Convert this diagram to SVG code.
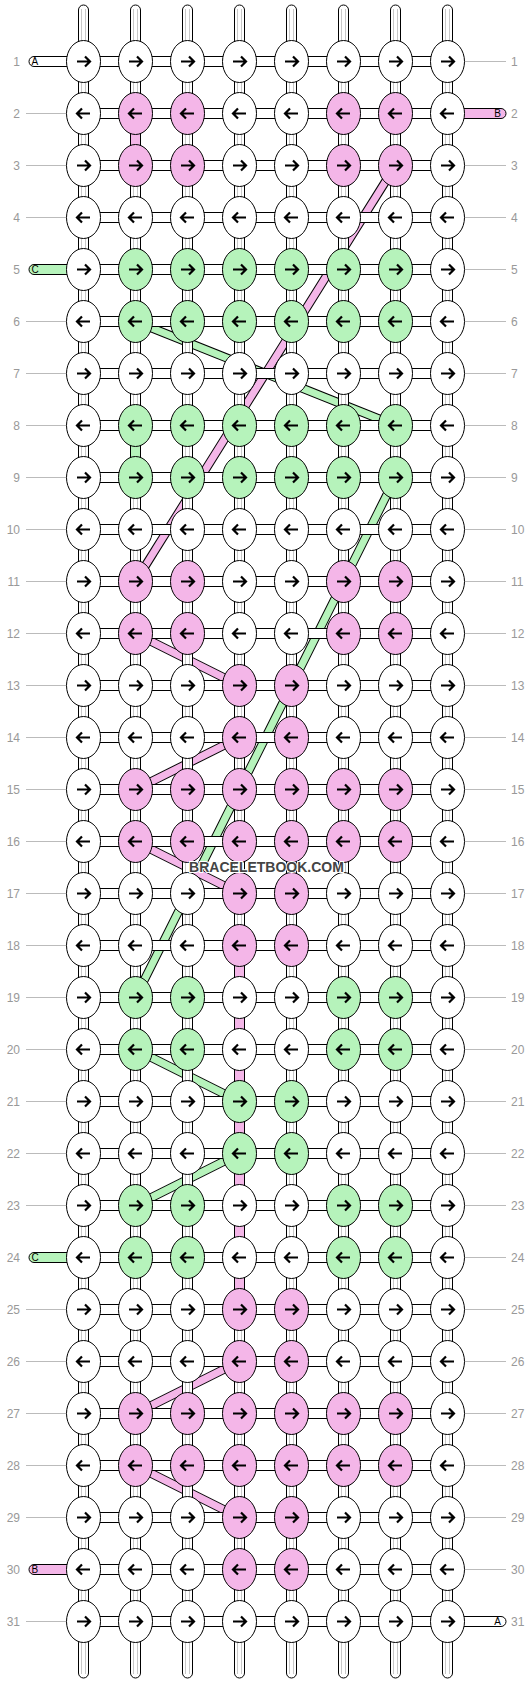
<svg xmlns="http://www.w3.org/2000/svg" xmlns:xlink="http://www.w3.org/1999/xlink" width="532" height="1684" viewBox="0 0 532 1684">
<style>
.w ellipse{fill:#fff}
.p ellipse{fill:#f4b6e8}
.g ellipse{fill:#b6f3bb}
ellipse{stroke:#000;stroke-width:1}
.arr{fill:none;stroke:#000;stroke-width:2.2}
.cn{fill:#fff;stroke:#000;stroke-width:1}
.gl{stroke:#c8c8c8;stroke-width:1}
.cp{fill:#f4b6e8;stroke:#000;stroke-width:1}
.cg{fill:#b6f3bb;stroke:#000;stroke-width:1}
.bo{fill:none;stroke:#000;stroke-width:9}
.bp{fill:none;stroke:#f4b6e8;stroke-width:7}
.bg{fill:none;stroke:#b6f3bb;stroke-width:7}
.num{font-family:"Liberation Sans",Arial,sans-serif;font-size:12px;fill:#999}
.lbl{font-family:"Liberation Sans",Arial,sans-serif;font-size:10px;fill:#000}
.ln{stroke:#bbb;stroke-width:1}
.wm{font-family:"Liberation Sans",Arial,sans-serif;font-size:14px;font-weight:bold;fill:#444;stroke:#fff;stroke-width:2;paint-order:stroke}
</style>
<defs>
<path id="R" class="arr" d="M-6.5 0H6M1.5-5L6.5 0L1.5 5"/>
<path id="L" class="arr" d="M6.5 0H-6M-1.5-5L-6.5 0L-1.5 5"/>
<g id="hrow">
<rect class="cn" x="98.5" y="-5" width="22" height="10"/><rect class="cn" x="150.5" y="-5" width="22" height="10"/><rect class="cn" x="202.5" y="-5" width="22" height="10"/><rect class="cn" x="254.5" y="-5" width="22" height="10"/><rect class="cn" x="306.5" y="-5" width="22" height="10"/><rect class="cn" x="358.5" y="-5" width="22" height="10"/><rect class="cn" x="410.5" y="-5" width="22" height="10"/>
</g>
<g id="vc"><rect class="cn" x="-5" y="0" width="10" height="14"/><line class="gl" x1="-2" y1="0" x2="-2" y2="14"/><line class="gl" x1="2" y1="0" x2="2" y2="14"/></g>
<g id="vrow">
<use href="#vc" x="83.5"/><use href="#vc" x="135.5"/><use href="#vc" x="187.5"/><use href="#vc" x="239.5"/><use href="#vc" x="291.5"/><use href="#vc" x="343.5"/><use href="#vc" x="395.5"/><use href="#vc" x="447.5"/>
</g>
<g id="top"><rect class="cn" x="-5" y="5" width="10" height="40" rx="5"/><line class="gl" x1="-2" y1="9" x2="-2" y2="45"/><line class="gl" x1="2" y1="9" x2="2" y2="45"/></g>
<g id="bot"><rect class="cn" x="-5" y="1638" width="10" height="40" rx="5"/><line class="gl" x1="-2" y1="1638" x2="-2" y2="1674"/><line class="gl" x1="2" y1="1638" x2="2" y2="1674"/></g>
<g id="pinkb">
<path d="M395.5 165.5L135.5 581.5"/>
<path d="M135.5 633.5L239.5 685.5"/>
<path d="M239.5 737.5L135.5 789.5"/>
<path d="M135.5 841.5L239.5 893.5"/>
<path d="M239.5 945.5L239.5 1309.5"/>
<path d="M239.5 1361.5L135.5 1413.5"/>
<path d="M135.5 1465.5L239.5 1517.5"/>
</g>
<g id="greenb">
<path d="M135.5 321.5L395.5 425.5"/>
<path d="M395.5 477.5L135.5 997.5"/>
<path d="M135.5 1049.5L239.5 1101.5"/>
<path d="M239.5 1153.5L135.5 1205.5"/>
</g>
</defs>
<g id="connectors">
<g id="bands">
<use href="#greenb" class="bo"/><use href="#greenb" class="bg"/>
<use href="#pinkb" class="bo"/><use href="#pinkb" class="bp"/>
</g>
<g id="vertical">
<use href="#top" x="83.5"/><use href="#top" x="135.5"/><use href="#top" x="187.5"/><use href="#top" x="239.5"/><use href="#top" x="291.5"/><use href="#top" x="343.5"/><use href="#top" x="395.5"/><use href="#top" x="447.5"/>
<use href="#bot" x="83.5"/><use href="#bot" x="135.5"/><use href="#bot" x="187.5"/><use href="#bot" x="239.5"/><use href="#bot" x="291.5"/><use href="#bot" x="343.5"/><use href="#bot" x="395.5"/><use href="#bot" x="447.5"/>
<use href="#vrow" y="80.5"/><use href="#vrow" y="132.5"/><use href="#vrow" y="184.5"/><use href="#vrow" y="236.5"/><use href="#vrow" y="288.5"/><use href="#vrow" y="340.5"/><use href="#vrow" y="392.5"/><use href="#vrow" y="444.5"/><use href="#vrow" y="496.5"/><use href="#vrow" y="548.5"/>
<use href="#vrow" y="600.5"/><use href="#vrow" y="652.5"/><use href="#vrow" y="704.5"/><use href="#vrow" y="756.5"/><use href="#vrow" y="808.5"/><use href="#vrow" y="860.5"/><use href="#vrow" y="912.5"/><use href="#vrow" y="964.5"/><use href="#vrow" y="1016.5"/><use href="#vrow" y="1068.5"/>
<use href="#vrow" y="1120.5"/><use href="#vrow" y="1172.5"/><use href="#vrow" y="1224.5"/><use href="#vrow" y="1276.5"/><use href="#vrow" y="1328.5"/><use href="#vrow" y="1380.5"/><use href="#vrow" y="1432.5"/><use href="#vrow" y="1484.5"/><use href="#vrow" y="1536.5"/><use href="#vrow" y="1588.5"/>
<rect class="cp" x="130.5" y="132.5" width="10" height="14"/>
<rect class="cg" x="130.5" y="444.5" width="10" height="14"/>
<rect class="cp" x="234.5" y="964.5" width="10" height="14"/>
<rect class="cp" x="234.5" y="1016.5" width="10" height="14"/>
<rect class="cp" x="234.5" y="1068.5" width="10" height="14"/>
<rect class="cp" x="234.5" y="1120.5" width="10" height="14"/>
<rect class="cp" x="234.5" y="1172.5" width="10" height="14"/>
<rect class="cp" x="234.5" y="1224.5" width="10" height="14"/>
<rect class="cp" x="234.5" y="1276.5" width="10" height="14"/>
</g>
<g id="horizontal">
<use href="#hrow" y="61.5"/><use href="#hrow" y="113.5"/><use href="#hrow" y="165.5"/><use href="#hrow" y="217.5"/><use href="#hrow" y="269.5"/><use href="#hrow" y="321.5"/><use href="#hrow" y="373.5"/><use href="#hrow" y="425.5"/><use href="#hrow" y="477.5"/><use href="#hrow" y="529.5"/>
<use href="#hrow" y="581.5"/><use href="#hrow" y="633.5"/><use href="#hrow" y="685.5"/><use href="#hrow" y="737.5"/><use href="#hrow" y="789.5"/><use href="#hrow" y="841.5"/><use href="#hrow" y="893.5"/><use href="#hrow" y="945.5"/><use href="#hrow" y="997.5"/><use href="#hrow" y="1049.5"/>
<use href="#hrow" y="1101.5"/><use href="#hrow" y="1153.5"/><use href="#hrow" y="1205.5"/><use href="#hrow" y="1257.5"/><use href="#hrow" y="1309.5"/><use href="#hrow" y="1361.5"/><use href="#hrow" y="1413.5"/><use href="#hrow" y="1465.5"/><use href="#hrow" y="1517.5"/><use href="#hrow" y="1569.5"/>
<use href="#hrow" y="1621.5"/>
</g>
<g id="ends">
<rect class="cn" x="29" y="56.5" width="45" height="10" rx="5"/>
<rect class="cn" x="458" y="1616.5" width="48" height="10" rx="5"/>
<rect class="cp" x="458" y="108.5" width="48" height="10" rx="5"/>
<rect class="cp" x="29" y="1564.5" width="45" height="10" rx="5"/>
<rect class="cg" x="29" y="264.5" width="45" height="10" rx="5"/>
<rect class="cg" x="29" y="1252.5" width="45" height="10" rx="5"/>
</g>
</g>
<g id="nodes">
<g id="r1c1" class="w" transform="translate(83.5 61.5)"><ellipse rx="17" ry="21"/><use href="#R"/></g>
<g id="r1c2" class="w" transform="translate(135.5 61.5)"><ellipse rx="17" ry="21"/><use href="#R"/></g>
<g id="r1c3" class="w" transform="translate(187.5 61.5)"><ellipse rx="17" ry="21"/><use href="#R"/></g>
<g id="r1c4" class="w" transform="translate(239.5 61.5)"><ellipse rx="17" ry="21"/><use href="#R"/></g>
<g id="r1c5" class="w" transform="translate(291.5 61.5)"><ellipse rx="17" ry="21"/><use href="#R"/></g>
<g id="r1c6" class="w" transform="translate(343.5 61.5)"><ellipse rx="17" ry="21"/><use href="#R"/></g>
<g id="r1c7" class="w" transform="translate(395.5 61.5)"><ellipse rx="17" ry="21"/><use href="#R"/></g>
<g id="r1c8" class="w" transform="translate(447.5 61.5)"><ellipse rx="17" ry="21"/><use href="#R"/></g>
<g id="r2c1" class="w" transform="translate(83.5 113.5)"><ellipse rx="17" ry="21"/><use href="#L"/></g>
<g id="r2c2" class="p" transform="translate(135.5 113.5)"><ellipse rx="17" ry="21"/><use href="#L"/></g>
<g id="r2c3" class="p" transform="translate(187.5 113.5)"><ellipse rx="17" ry="21"/><use href="#L"/></g>
<g id="r2c4" class="w" transform="translate(239.5 113.5)"><ellipse rx="17" ry="21"/><use href="#L"/></g>
<g id="r2c5" class="w" transform="translate(291.5 113.5)"><ellipse rx="17" ry="21"/><use href="#L"/></g>
<g id="r2c6" class="p" transform="translate(343.5 113.5)"><ellipse rx="17" ry="21"/><use href="#L"/></g>
<g id="r2c7" class="p" transform="translate(395.5 113.5)"><ellipse rx="17" ry="21"/><use href="#L"/></g>
<g id="r2c8" class="w" transform="translate(447.5 113.5)"><ellipse rx="17" ry="21"/><use href="#L"/></g>
<g id="r3c1" class="w" transform="translate(83.5 165.5)"><ellipse rx="17" ry="21"/><use href="#R"/></g>
<g id="r3c2" class="p" transform="translate(135.5 165.5)"><ellipse rx="17" ry="21"/><use href="#R"/></g>
<g id="r3c3" class="p" transform="translate(187.5 165.5)"><ellipse rx="17" ry="21"/><use href="#R"/></g>
<g id="r3c4" class="w" transform="translate(239.5 165.5)"><ellipse rx="17" ry="21"/><use href="#R"/></g>
<g id="r3c5" class="w" transform="translate(291.5 165.5)"><ellipse rx="17" ry="21"/><use href="#R"/></g>
<g id="r3c6" class="p" transform="translate(343.5 165.5)"><ellipse rx="17" ry="21"/><use href="#R"/></g>
<g id="r3c7" class="p" transform="translate(395.5 165.5)"><ellipse rx="17" ry="21"/><use href="#R"/></g>
<g id="r3c8" class="w" transform="translate(447.5 165.5)"><ellipse rx="17" ry="21"/><use href="#R"/></g>
<g id="r4c1" class="w" transform="translate(83.5 217.5)"><ellipse rx="17" ry="21"/><use href="#L"/></g>
<g id="r4c2" class="w" transform="translate(135.5 217.5)"><ellipse rx="17" ry="21"/><use href="#L"/></g>
<g id="r4c3" class="w" transform="translate(187.5 217.5)"><ellipse rx="17" ry="21"/><use href="#L"/></g>
<g id="r4c4" class="w" transform="translate(239.5 217.5)"><ellipse rx="17" ry="21"/><use href="#L"/></g>
<g id="r4c5" class="w" transform="translate(291.5 217.5)"><ellipse rx="17" ry="21"/><use href="#L"/></g>
<g id="r4c6" class="w" transform="translate(343.5 217.5)"><ellipse rx="17" ry="21"/><use href="#L"/></g>
<g id="r4c7" class="w" transform="translate(395.5 217.5)"><ellipse rx="17" ry="21"/><use href="#L"/></g>
<g id="r4c8" class="w" transform="translate(447.5 217.5)"><ellipse rx="17" ry="21"/><use href="#L"/></g>
<g id="r5c1" class="w" transform="translate(83.5 269.5)"><ellipse rx="17" ry="21"/><use href="#R"/></g>
<g id="r5c2" class="g" transform="translate(135.5 269.5)"><ellipse rx="17" ry="21"/><use href="#R"/></g>
<g id="r5c3" class="g" transform="translate(187.5 269.5)"><ellipse rx="17" ry="21"/><use href="#R"/></g>
<g id="r5c4" class="g" transform="translate(239.5 269.5)"><ellipse rx="17" ry="21"/><use href="#R"/></g>
<g id="r5c5" class="g" transform="translate(291.5 269.5)"><ellipse rx="17" ry="21"/><use href="#R"/></g>
<g id="r5c6" class="g" transform="translate(343.5 269.5)"><ellipse rx="17" ry="21"/><use href="#R"/></g>
<g id="r5c7" class="g" transform="translate(395.5 269.5)"><ellipse rx="17" ry="21"/><use href="#R"/></g>
<g id="r5c8" class="w" transform="translate(447.5 269.5)"><ellipse rx="17" ry="21"/><use href="#R"/></g>
<g id="r6c1" class="w" transform="translate(83.5 321.5)"><ellipse rx="17" ry="21"/><use href="#L"/></g>
<g id="r6c2" class="g" transform="translate(135.5 321.5)"><ellipse rx="17" ry="21"/><use href="#L"/></g>
<g id="r6c3" class="g" transform="translate(187.5 321.5)"><ellipse rx="17" ry="21"/><use href="#L"/></g>
<g id="r6c4" class="g" transform="translate(239.5 321.5)"><ellipse rx="17" ry="21"/><use href="#L"/></g>
<g id="r6c5" class="g" transform="translate(291.5 321.5)"><ellipse rx="17" ry="21"/><use href="#L"/></g>
<g id="r6c6" class="g" transform="translate(343.5 321.5)"><ellipse rx="17" ry="21"/><use href="#L"/></g>
<g id="r6c7" class="g" transform="translate(395.5 321.5)"><ellipse rx="17" ry="21"/><use href="#L"/></g>
<g id="r6c8" class="w" transform="translate(447.5 321.5)"><ellipse rx="17" ry="21"/><use href="#L"/></g>
<g id="r7c1" class="w" transform="translate(83.5 373.5)"><ellipse rx="17" ry="21"/><use href="#R"/></g>
<g id="r7c2" class="w" transform="translate(135.5 373.5)"><ellipse rx="17" ry="21"/><use href="#R"/></g>
<g id="r7c3" class="w" transform="translate(187.5 373.5)"><ellipse rx="17" ry="21"/><use href="#R"/></g>
<g id="r7c4" class="w" transform="translate(239.5 373.5)"><ellipse rx="17" ry="21"/><use href="#R"/></g>
<g id="r7c5" class="w" transform="translate(291.5 373.5)"><ellipse rx="17" ry="21"/><use href="#R"/></g>
<g id="r7c6" class="w" transform="translate(343.5 373.5)"><ellipse rx="17" ry="21"/><use href="#R"/></g>
<g id="r7c7" class="w" transform="translate(395.5 373.5)"><ellipse rx="17" ry="21"/><use href="#R"/></g>
<g id="r7c8" class="w" transform="translate(447.5 373.5)"><ellipse rx="17" ry="21"/><use href="#R"/></g>
<g id="r8c1" class="w" transform="translate(83.5 425.5)"><ellipse rx="17" ry="21"/><use href="#L"/></g>
<g id="r8c2" class="g" transform="translate(135.5 425.5)"><ellipse rx="17" ry="21"/><use href="#L"/></g>
<g id="r8c3" class="g" transform="translate(187.5 425.5)"><ellipse rx="17" ry="21"/><use href="#L"/></g>
<g id="r8c4" class="g" transform="translate(239.5 425.5)"><ellipse rx="17" ry="21"/><use href="#L"/></g>
<g id="r8c5" class="g" transform="translate(291.5 425.5)"><ellipse rx="17" ry="21"/><use href="#L"/></g>
<g id="r8c6" class="g" transform="translate(343.5 425.5)"><ellipse rx="17" ry="21"/><use href="#L"/></g>
<g id="r8c7" class="g" transform="translate(395.5 425.5)"><ellipse rx="17" ry="21"/><use href="#L"/></g>
<g id="r8c8" class="w" transform="translate(447.5 425.5)"><ellipse rx="17" ry="21"/><use href="#L"/></g>
<g id="r9c1" class="w" transform="translate(83.5 477.5)"><ellipse rx="17" ry="21"/><use href="#R"/></g>
<g id="r9c2" class="g" transform="translate(135.5 477.5)"><ellipse rx="17" ry="21"/><use href="#R"/></g>
<g id="r9c3" class="g" transform="translate(187.5 477.5)"><ellipse rx="17" ry="21"/><use href="#R"/></g>
<g id="r9c4" class="g" transform="translate(239.5 477.5)"><ellipse rx="17" ry="21"/><use href="#R"/></g>
<g id="r9c5" class="g" transform="translate(291.5 477.5)"><ellipse rx="17" ry="21"/><use href="#R"/></g>
<g id="r9c6" class="g" transform="translate(343.5 477.5)"><ellipse rx="17" ry="21"/><use href="#R"/></g>
<g id="r9c7" class="g" transform="translate(395.5 477.5)"><ellipse rx="17" ry="21"/><use href="#R"/></g>
<g id="r9c8" class="w" transform="translate(447.5 477.5)"><ellipse rx="17" ry="21"/><use href="#R"/></g>
<g id="r10c1" class="w" transform="translate(83.5 529.5)"><ellipse rx="17" ry="21"/><use href="#L"/></g>
<g id="r10c2" class="w" transform="translate(135.5 529.5)"><ellipse rx="17" ry="21"/><use href="#L"/></g>
<g id="r10c3" class="w" transform="translate(187.5 529.5)"><ellipse rx="17" ry="21"/><use href="#L"/></g>
<g id="r10c4" class="w" transform="translate(239.5 529.5)"><ellipse rx="17" ry="21"/><use href="#L"/></g>
<g id="r10c5" class="w" transform="translate(291.5 529.5)"><ellipse rx="17" ry="21"/><use href="#L"/></g>
<g id="r10c6" class="w" transform="translate(343.5 529.5)"><ellipse rx="17" ry="21"/><use href="#L"/></g>
<g id="r10c7" class="w" transform="translate(395.5 529.5)"><ellipse rx="17" ry="21"/><use href="#L"/></g>
<g id="r10c8" class="w" transform="translate(447.5 529.5)"><ellipse rx="17" ry="21"/><use href="#L"/></g>
<g id="r11c1" class="w" transform="translate(83.5 581.5)"><ellipse rx="17" ry="21"/><use href="#R"/></g>
<g id="r11c2" class="p" transform="translate(135.5 581.5)"><ellipse rx="17" ry="21"/><use href="#R"/></g>
<g id="r11c3" class="p" transform="translate(187.5 581.5)"><ellipse rx="17" ry="21"/><use href="#R"/></g>
<g id="r11c4" class="w" transform="translate(239.5 581.5)"><ellipse rx="17" ry="21"/><use href="#R"/></g>
<g id="r11c5" class="w" transform="translate(291.5 581.5)"><ellipse rx="17" ry="21"/><use href="#R"/></g>
<g id="r11c6" class="p" transform="translate(343.5 581.5)"><ellipse rx="17" ry="21"/><use href="#R"/></g>
<g id="r11c7" class="p" transform="translate(395.5 581.5)"><ellipse rx="17" ry="21"/><use href="#R"/></g>
<g id="r11c8" class="w" transform="translate(447.5 581.5)"><ellipse rx="17" ry="21"/><use href="#R"/></g>
<g id="r12c1" class="w" transform="translate(83.5 633.5)"><ellipse rx="17" ry="21"/><use href="#L"/></g>
<g id="r12c2" class="p" transform="translate(135.5 633.5)"><ellipse rx="17" ry="21"/><use href="#L"/></g>
<g id="r12c3" class="p" transform="translate(187.5 633.5)"><ellipse rx="17" ry="21"/><use href="#L"/></g>
<g id="r12c4" class="w" transform="translate(239.5 633.5)"><ellipse rx="17" ry="21"/><use href="#L"/></g>
<g id="r12c5" class="w" transform="translate(291.5 633.5)"><ellipse rx="17" ry="21"/><use href="#L"/></g>
<g id="r12c6" class="p" transform="translate(343.5 633.5)"><ellipse rx="17" ry="21"/><use href="#L"/></g>
<g id="r12c7" class="p" transform="translate(395.5 633.5)"><ellipse rx="17" ry="21"/><use href="#L"/></g>
<g id="r12c8" class="w" transform="translate(447.5 633.5)"><ellipse rx="17" ry="21"/><use href="#L"/></g>
<g id="r13c1" class="w" transform="translate(83.5 685.5)"><ellipse rx="17" ry="21"/><use href="#R"/></g>
<g id="r13c2" class="w" transform="translate(135.5 685.5)"><ellipse rx="17" ry="21"/><use href="#R"/></g>
<g id="r13c3" class="w" transform="translate(187.5 685.5)"><ellipse rx="17" ry="21"/><use href="#R"/></g>
<g id="r13c4" class="p" transform="translate(239.5 685.5)"><ellipse rx="17" ry="21"/><use href="#R"/></g>
<g id="r13c5" class="p" transform="translate(291.5 685.5)"><ellipse rx="17" ry="21"/><use href="#R"/></g>
<g id="r13c6" class="w" transform="translate(343.5 685.5)"><ellipse rx="17" ry="21"/><use href="#R"/></g>
<g id="r13c7" class="w" transform="translate(395.5 685.5)"><ellipse rx="17" ry="21"/><use href="#R"/></g>
<g id="r13c8" class="w" transform="translate(447.5 685.5)"><ellipse rx="17" ry="21"/><use href="#R"/></g>
<g id="r14c1" class="w" transform="translate(83.5 737.5)"><ellipse rx="17" ry="21"/><use href="#L"/></g>
<g id="r14c2" class="w" transform="translate(135.5 737.5)"><ellipse rx="17" ry="21"/><use href="#L"/></g>
<g id="r14c3" class="w" transform="translate(187.5 737.5)"><ellipse rx="17" ry="21"/><use href="#L"/></g>
<g id="r14c4" class="p" transform="translate(239.5 737.5)"><ellipse rx="17" ry="21"/><use href="#L"/></g>
<g id="r14c5" class="p" transform="translate(291.5 737.5)"><ellipse rx="17" ry="21"/><use href="#L"/></g>
<g id="r14c6" class="w" transform="translate(343.5 737.5)"><ellipse rx="17" ry="21"/><use href="#L"/></g>
<g id="r14c7" class="w" transform="translate(395.5 737.5)"><ellipse rx="17" ry="21"/><use href="#L"/></g>
<g id="r14c8" class="w" transform="translate(447.5 737.5)"><ellipse rx="17" ry="21"/><use href="#L"/></g>
<g id="r15c1" class="w" transform="translate(83.5 789.5)"><ellipse rx="17" ry="21"/><use href="#R"/></g>
<g id="r15c2" class="p" transform="translate(135.5 789.5)"><ellipse rx="17" ry="21"/><use href="#R"/></g>
<g id="r15c3" class="p" transform="translate(187.5 789.5)"><ellipse rx="17" ry="21"/><use href="#R"/></g>
<g id="r15c4" class="p" transform="translate(239.5 789.5)"><ellipse rx="17" ry="21"/><use href="#R"/></g>
<g id="r15c5" class="p" transform="translate(291.5 789.5)"><ellipse rx="17" ry="21"/><use href="#R"/></g>
<g id="r15c6" class="p" transform="translate(343.5 789.5)"><ellipse rx="17" ry="21"/><use href="#R"/></g>
<g id="r15c7" class="p" transform="translate(395.5 789.5)"><ellipse rx="17" ry="21"/><use href="#R"/></g>
<g id="r15c8" class="w" transform="translate(447.5 789.5)"><ellipse rx="17" ry="21"/><use href="#R"/></g>
<g id="r16c1" class="w" transform="translate(83.5 841.5)"><ellipse rx="17" ry="21"/><use href="#L"/></g>
<g id="r16c2" class="p" transform="translate(135.5 841.5)"><ellipse rx="17" ry="21"/><use href="#L"/></g>
<g id="r16c3" class="p" transform="translate(187.5 841.5)"><ellipse rx="17" ry="21"/><use href="#L"/></g>
<g id="r16c4" class="p" transform="translate(239.5 841.5)"><ellipse rx="17" ry="21"/><use href="#L"/></g>
<g id="r16c5" class="p" transform="translate(291.5 841.5)"><ellipse rx="17" ry="21"/><use href="#L"/></g>
<g id="r16c6" class="p" transform="translate(343.5 841.5)"><ellipse rx="17" ry="21"/><use href="#L"/></g>
<g id="r16c7" class="p" transform="translate(395.5 841.5)"><ellipse rx="17" ry="21"/><use href="#L"/></g>
<g id="r16c8" class="w" transform="translate(447.5 841.5)"><ellipse rx="17" ry="21"/><use href="#L"/></g>
<g id="r17c1" class="w" transform="translate(83.5 893.5)"><ellipse rx="17" ry="21"/><use href="#R"/></g>
<g id="r17c2" class="w" transform="translate(135.5 893.5)"><ellipse rx="17" ry="21"/><use href="#R"/></g>
<g id="r17c3" class="w" transform="translate(187.5 893.5)"><ellipse rx="17" ry="21"/><use href="#R"/></g>
<g id="r17c4" class="p" transform="translate(239.5 893.5)"><ellipse rx="17" ry="21"/><use href="#R"/></g>
<g id="r17c5" class="p" transform="translate(291.5 893.5)"><ellipse rx="17" ry="21"/><use href="#R"/></g>
<g id="r17c6" class="w" transform="translate(343.5 893.5)"><ellipse rx="17" ry="21"/><use href="#R"/></g>
<g id="r17c7" class="w" transform="translate(395.5 893.5)"><ellipse rx="17" ry="21"/><use href="#R"/></g>
<g id="r17c8" class="w" transform="translate(447.5 893.5)"><ellipse rx="17" ry="21"/><use href="#R"/></g>
<g id="r18c1" class="w" transform="translate(83.5 945.5)"><ellipse rx="17" ry="21"/><use href="#L"/></g>
<g id="r18c2" class="w" transform="translate(135.5 945.5)"><ellipse rx="17" ry="21"/><use href="#L"/></g>
<g id="r18c3" class="w" transform="translate(187.5 945.5)"><ellipse rx="17" ry="21"/><use href="#L"/></g>
<g id="r18c4" class="p" transform="translate(239.5 945.5)"><ellipse rx="17" ry="21"/><use href="#L"/></g>
<g id="r18c5" class="p" transform="translate(291.5 945.5)"><ellipse rx="17" ry="21"/><use href="#L"/></g>
<g id="r18c6" class="w" transform="translate(343.5 945.5)"><ellipse rx="17" ry="21"/><use href="#L"/></g>
<g id="r18c7" class="w" transform="translate(395.5 945.5)"><ellipse rx="17" ry="21"/><use href="#L"/></g>
<g id="r18c8" class="w" transform="translate(447.5 945.5)"><ellipse rx="17" ry="21"/><use href="#L"/></g>
<g id="r19c1" class="w" transform="translate(83.5 997.5)"><ellipse rx="17" ry="21"/><use href="#R"/></g>
<g id="r19c2" class="g" transform="translate(135.5 997.5)"><ellipse rx="17" ry="21"/><use href="#R"/></g>
<g id="r19c3" class="g" transform="translate(187.5 997.5)"><ellipse rx="17" ry="21"/><use href="#R"/></g>
<g id="r19c4" class="w" transform="translate(239.5 997.5)"><ellipse rx="17" ry="21"/><use href="#R"/></g>
<g id="r19c5" class="w" transform="translate(291.5 997.5)"><ellipse rx="17" ry="21"/><use href="#R"/></g>
<g id="r19c6" class="g" transform="translate(343.5 997.5)"><ellipse rx="17" ry="21"/><use href="#R"/></g>
<g id="r19c7" class="g" transform="translate(395.5 997.5)"><ellipse rx="17" ry="21"/><use href="#R"/></g>
<g id="r19c8" class="w" transform="translate(447.5 997.5)"><ellipse rx="17" ry="21"/><use href="#R"/></g>
<g id="r20c1" class="w" transform="translate(83.5 1049.5)"><ellipse rx="17" ry="21"/><use href="#L"/></g>
<g id="r20c2" class="g" transform="translate(135.5 1049.5)"><ellipse rx="17" ry="21"/><use href="#L"/></g>
<g id="r20c3" class="g" transform="translate(187.5 1049.5)"><ellipse rx="17" ry="21"/><use href="#L"/></g>
<g id="r20c4" class="w" transform="translate(239.5 1049.5)"><ellipse rx="17" ry="21"/><use href="#L"/></g>
<g id="r20c5" class="w" transform="translate(291.5 1049.5)"><ellipse rx="17" ry="21"/><use href="#L"/></g>
<g id="r20c6" class="g" transform="translate(343.5 1049.5)"><ellipse rx="17" ry="21"/><use href="#L"/></g>
<g id="r20c7" class="g" transform="translate(395.5 1049.5)"><ellipse rx="17" ry="21"/><use href="#L"/></g>
<g id="r20c8" class="w" transform="translate(447.5 1049.5)"><ellipse rx="17" ry="21"/><use href="#L"/></g>
<g id="r21c1" class="w" transform="translate(83.5 1101.5)"><ellipse rx="17" ry="21"/><use href="#R"/></g>
<g id="r21c2" class="w" transform="translate(135.5 1101.5)"><ellipse rx="17" ry="21"/><use href="#R"/></g>
<g id="r21c3" class="w" transform="translate(187.5 1101.5)"><ellipse rx="17" ry="21"/><use href="#R"/></g>
<g id="r21c4" class="g" transform="translate(239.5 1101.5)"><ellipse rx="17" ry="21"/><use href="#R"/></g>
<g id="r21c5" class="g" transform="translate(291.5 1101.5)"><ellipse rx="17" ry="21"/><use href="#R"/></g>
<g id="r21c6" class="w" transform="translate(343.5 1101.5)"><ellipse rx="17" ry="21"/><use href="#R"/></g>
<g id="r21c7" class="w" transform="translate(395.5 1101.5)"><ellipse rx="17" ry="21"/><use href="#R"/></g>
<g id="r21c8" class="w" transform="translate(447.5 1101.5)"><ellipse rx="17" ry="21"/><use href="#R"/></g>
<g id="r22c1" class="w" transform="translate(83.5 1153.5)"><ellipse rx="17" ry="21"/><use href="#L"/></g>
<g id="r22c2" class="w" transform="translate(135.5 1153.5)"><ellipse rx="17" ry="21"/><use href="#L"/></g>
<g id="r22c3" class="w" transform="translate(187.5 1153.5)"><ellipse rx="17" ry="21"/><use href="#L"/></g>
<g id="r22c4" class="g" transform="translate(239.5 1153.5)"><ellipse rx="17" ry="21"/><use href="#L"/></g>
<g id="r22c5" class="g" transform="translate(291.5 1153.5)"><ellipse rx="17" ry="21"/><use href="#L"/></g>
<g id="r22c6" class="w" transform="translate(343.5 1153.5)"><ellipse rx="17" ry="21"/><use href="#L"/></g>
<g id="r22c7" class="w" transform="translate(395.5 1153.5)"><ellipse rx="17" ry="21"/><use href="#L"/></g>
<g id="r22c8" class="w" transform="translate(447.5 1153.5)"><ellipse rx="17" ry="21"/><use href="#L"/></g>
<g id="r23c1" class="w" transform="translate(83.5 1205.5)"><ellipse rx="17" ry="21"/><use href="#R"/></g>
<g id="r23c2" class="g" transform="translate(135.5 1205.5)"><ellipse rx="17" ry="21"/><use href="#R"/></g>
<g id="r23c3" class="g" transform="translate(187.5 1205.5)"><ellipse rx="17" ry="21"/><use href="#R"/></g>
<g id="r23c4" class="w" transform="translate(239.5 1205.5)"><ellipse rx="17" ry="21"/><use href="#R"/></g>
<g id="r23c5" class="w" transform="translate(291.5 1205.5)"><ellipse rx="17" ry="21"/><use href="#R"/></g>
<g id="r23c6" class="g" transform="translate(343.5 1205.5)"><ellipse rx="17" ry="21"/><use href="#R"/></g>
<g id="r23c7" class="g" transform="translate(395.5 1205.5)"><ellipse rx="17" ry="21"/><use href="#R"/></g>
<g id="r23c8" class="w" transform="translate(447.5 1205.5)"><ellipse rx="17" ry="21"/><use href="#R"/></g>
<g id="r24c1" class="w" transform="translate(83.5 1257.5)"><ellipse rx="17" ry="21"/><use href="#L"/></g>
<g id="r24c2" class="g" transform="translate(135.5 1257.5)"><ellipse rx="17" ry="21"/><use href="#L"/></g>
<g id="r24c3" class="g" transform="translate(187.5 1257.5)"><ellipse rx="17" ry="21"/><use href="#L"/></g>
<g id="r24c4" class="w" transform="translate(239.5 1257.5)"><ellipse rx="17" ry="21"/><use href="#L"/></g>
<g id="r24c5" class="w" transform="translate(291.5 1257.5)"><ellipse rx="17" ry="21"/><use href="#L"/></g>
<g id="r24c6" class="g" transform="translate(343.5 1257.5)"><ellipse rx="17" ry="21"/><use href="#L"/></g>
<g id="r24c7" class="g" transform="translate(395.5 1257.5)"><ellipse rx="17" ry="21"/><use href="#L"/></g>
<g id="r24c8" class="w" transform="translate(447.5 1257.5)"><ellipse rx="17" ry="21"/><use href="#L"/></g>
<g id="r25c1" class="w" transform="translate(83.5 1309.5)"><ellipse rx="17" ry="21"/><use href="#R"/></g>
<g id="r25c2" class="w" transform="translate(135.5 1309.5)"><ellipse rx="17" ry="21"/><use href="#R"/></g>
<g id="r25c3" class="w" transform="translate(187.5 1309.5)"><ellipse rx="17" ry="21"/><use href="#R"/></g>
<g id="r25c4" class="p" transform="translate(239.5 1309.5)"><ellipse rx="17" ry="21"/><use href="#R"/></g>
<g id="r25c5" class="p" transform="translate(291.5 1309.5)"><ellipse rx="17" ry="21"/><use href="#R"/></g>
<g id="r25c6" class="w" transform="translate(343.5 1309.5)"><ellipse rx="17" ry="21"/><use href="#R"/></g>
<g id="r25c7" class="w" transform="translate(395.5 1309.5)"><ellipse rx="17" ry="21"/><use href="#R"/></g>
<g id="r25c8" class="w" transform="translate(447.5 1309.5)"><ellipse rx="17" ry="21"/><use href="#R"/></g>
<g id="r26c1" class="w" transform="translate(83.5 1361.5)"><ellipse rx="17" ry="21"/><use href="#L"/></g>
<g id="r26c2" class="w" transform="translate(135.5 1361.5)"><ellipse rx="17" ry="21"/><use href="#L"/></g>
<g id="r26c3" class="w" transform="translate(187.5 1361.5)"><ellipse rx="17" ry="21"/><use href="#L"/></g>
<g id="r26c4" class="p" transform="translate(239.5 1361.5)"><ellipse rx="17" ry="21"/><use href="#L"/></g>
<g id="r26c5" class="p" transform="translate(291.5 1361.5)"><ellipse rx="17" ry="21"/><use href="#L"/></g>
<g id="r26c6" class="w" transform="translate(343.5 1361.5)"><ellipse rx="17" ry="21"/><use href="#L"/></g>
<g id="r26c7" class="w" transform="translate(395.5 1361.5)"><ellipse rx="17" ry="21"/><use href="#L"/></g>
<g id="r26c8" class="w" transform="translate(447.5 1361.5)"><ellipse rx="17" ry="21"/><use href="#L"/></g>
<g id="r27c1" class="w" transform="translate(83.5 1413.5)"><ellipse rx="17" ry="21"/><use href="#R"/></g>
<g id="r27c2" class="p" transform="translate(135.5 1413.5)"><ellipse rx="17" ry="21"/><use href="#R"/></g>
<g id="r27c3" class="p" transform="translate(187.5 1413.5)"><ellipse rx="17" ry="21"/><use href="#R"/></g>
<g id="r27c4" class="p" transform="translate(239.5 1413.5)"><ellipse rx="17" ry="21"/><use href="#R"/></g>
<g id="r27c5" class="p" transform="translate(291.5 1413.5)"><ellipse rx="17" ry="21"/><use href="#R"/></g>
<g id="r27c6" class="p" transform="translate(343.5 1413.5)"><ellipse rx="17" ry="21"/><use href="#R"/></g>
<g id="r27c7" class="p" transform="translate(395.5 1413.5)"><ellipse rx="17" ry="21"/><use href="#R"/></g>
<g id="r27c8" class="w" transform="translate(447.5 1413.5)"><ellipse rx="17" ry="21"/><use href="#R"/></g>
<g id="r28c1" class="w" transform="translate(83.5 1465.5)"><ellipse rx="17" ry="21"/><use href="#L"/></g>
<g id="r28c2" class="p" transform="translate(135.5 1465.5)"><ellipse rx="17" ry="21"/><use href="#L"/></g>
<g id="r28c3" class="p" transform="translate(187.5 1465.5)"><ellipse rx="17" ry="21"/><use href="#L"/></g>
<g id="r28c4" class="p" transform="translate(239.5 1465.5)"><ellipse rx="17" ry="21"/><use href="#L"/></g>
<g id="r28c5" class="p" transform="translate(291.5 1465.5)"><ellipse rx="17" ry="21"/><use href="#L"/></g>
<g id="r28c6" class="p" transform="translate(343.5 1465.5)"><ellipse rx="17" ry="21"/><use href="#L"/></g>
<g id="r28c7" class="p" transform="translate(395.5 1465.5)"><ellipse rx="17" ry="21"/><use href="#L"/></g>
<g id="r28c8" class="w" transform="translate(447.5 1465.5)"><ellipse rx="17" ry="21"/><use href="#L"/></g>
<g id="r29c1" class="w" transform="translate(83.5 1517.5)"><ellipse rx="17" ry="21"/><use href="#R"/></g>
<g id="r29c2" class="w" transform="translate(135.5 1517.5)"><ellipse rx="17" ry="21"/><use href="#R"/></g>
<g id="r29c3" class="w" transform="translate(187.5 1517.5)"><ellipse rx="17" ry="21"/><use href="#R"/></g>
<g id="r29c4" class="p" transform="translate(239.5 1517.5)"><ellipse rx="17" ry="21"/><use href="#R"/></g>
<g id="r29c5" class="p" transform="translate(291.5 1517.5)"><ellipse rx="17" ry="21"/><use href="#R"/></g>
<g id="r29c6" class="w" transform="translate(343.5 1517.5)"><ellipse rx="17" ry="21"/><use href="#R"/></g>
<g id="r29c7" class="w" transform="translate(395.5 1517.5)"><ellipse rx="17" ry="21"/><use href="#R"/></g>
<g id="r29c8" class="w" transform="translate(447.5 1517.5)"><ellipse rx="17" ry="21"/><use href="#R"/></g>
<g id="r30c1" class="w" transform="translate(83.5 1569.5)"><ellipse rx="17" ry="21"/><use href="#L"/></g>
<g id="r30c2" class="w" transform="translate(135.5 1569.5)"><ellipse rx="17" ry="21"/><use href="#L"/></g>
<g id="r30c3" class="w" transform="translate(187.5 1569.5)"><ellipse rx="17" ry="21"/><use href="#L"/></g>
<g id="r30c4" class="p" transform="translate(239.5 1569.5)"><ellipse rx="17" ry="21"/><use href="#L"/></g>
<g id="r30c5" class="p" transform="translate(291.5 1569.5)"><ellipse rx="17" ry="21"/><use href="#L"/></g>
<g id="r30c6" class="w" transform="translate(343.5 1569.5)"><ellipse rx="17" ry="21"/><use href="#L"/></g>
<g id="r30c7" class="w" transform="translate(395.5 1569.5)"><ellipse rx="17" ry="21"/><use href="#L"/></g>
<g id="r30c8" class="w" transform="translate(447.5 1569.5)"><ellipse rx="17" ry="21"/><use href="#L"/></g>
<g id="r31c1" class="w" transform="translate(83.5 1621.5)"><ellipse rx="17" ry="21"/><use href="#R"/></g>
<g id="r31c2" class="w" transform="translate(135.5 1621.5)"><ellipse rx="17" ry="21"/><use href="#R"/></g>
<g id="r31c3" class="w" transform="translate(187.5 1621.5)"><ellipse rx="17" ry="21"/><use href="#R"/></g>
<g id="r31c4" class="w" transform="translate(239.5 1621.5)"><ellipse rx="17" ry="21"/><use href="#R"/></g>
<g id="r31c5" class="w" transform="translate(291.5 1621.5)"><ellipse rx="17" ry="21"/><use href="#R"/></g>
<g id="r31c6" class="w" transform="translate(343.5 1621.5)"><ellipse rx="17" ry="21"/><use href="#R"/></g>
<g id="r31c7" class="w" transform="translate(395.5 1621.5)"><ellipse rx="17" ry="21"/><use href="#R"/></g>
<g id="r31c8" class="w" transform="translate(447.5 1621.5)"><ellipse rx="17" ry="21"/><use href="#R"/></g>
</g>
<g id="endlabels" class="lbl">
<text x="31.5" y="65">A</text>
<text x="501" y="1625" text-anchor="end">A</text>
<text x="501" y="117" text-anchor="end">B</text>
<text x="31.5" y="1573">B</text>
<text x="31.5" y="273">C</text>
<text x="31.5" y="1261">C</text>
</g>
<g id="rowlines" class="ln">
<line x1="26" y1="113.5" x2="66" y2="113.5"/><line x1="26" y1="165.5" x2="66" y2="165.5"/><line x1="26" y1="217.5" x2="66" y2="217.5"/><line x1="26" y1="321.5" x2="66" y2="321.5"/><line x1="26" y1="373.5" x2="66" y2="373.5"/><line x1="26" y1="425.5" x2="66" y2="425.5"/><line x1="26" y1="477.5" x2="66" y2="477.5"/><line x1="26" y1="529.5" x2="66" y2="529.5"/><line x1="26" y1="581.5" x2="66" y2="581.5"/><line x1="26" y1="633.5" x2="66" y2="633.5"/><line x1="26" y1="685.5" x2="66" y2="685.5"/><line x1="26" y1="737.5" x2="66" y2="737.5"/><line x1="26" y1="789.5" x2="66" y2="789.5"/><line x1="26" y1="841.5" x2="66" y2="841.5"/><line x1="26" y1="893.5" x2="66" y2="893.5"/><line x1="26" y1="945.5" x2="66" y2="945.5"/><line x1="26" y1="997.5" x2="66" y2="997.5"/><line x1="26" y1="1049.5" x2="66" y2="1049.5"/><line x1="26" y1="1101.5" x2="66" y2="1101.5"/><line x1="26" y1="1153.5" x2="66" y2="1153.5"/><line x1="26" y1="1205.5" x2="66" y2="1205.5"/><line x1="26" y1="1309.5" x2="66" y2="1309.5"/><line x1="26" y1="1361.5" x2="66" y2="1361.5"/><line x1="26" y1="1413.5" x2="66" y2="1413.5"/><line x1="26" y1="1465.5" x2="66" y2="1465.5"/><line x1="26" y1="1517.5" x2="66" y2="1517.5"/><line x1="26" y1="1621.5" x2="66" y2="1621.5"/>
<line x1="465" y1="61.5" x2="506" y2="61.5"/><line x1="465" y1="165.5" x2="506" y2="165.5"/><line x1="465" y1="217.5" x2="506" y2="217.5"/><line x1="465" y1="269.5" x2="506" y2="269.5"/><line x1="465" y1="321.5" x2="506" y2="321.5"/><line x1="465" y1="373.5" x2="506" y2="373.5"/><line x1="465" y1="425.5" x2="506" y2="425.5"/><line x1="465" y1="477.5" x2="506" y2="477.5"/><line x1="465" y1="529.5" x2="506" y2="529.5"/><line x1="465" y1="581.5" x2="506" y2="581.5"/><line x1="465" y1="633.5" x2="506" y2="633.5"/><line x1="465" y1="685.5" x2="506" y2="685.5"/><line x1="465" y1="737.5" x2="506" y2="737.5"/><line x1="465" y1="789.5" x2="506" y2="789.5"/><line x1="465" y1="841.5" x2="506" y2="841.5"/><line x1="465" y1="893.5" x2="506" y2="893.5"/><line x1="465" y1="945.5" x2="506" y2="945.5"/><line x1="465" y1="997.5" x2="506" y2="997.5"/><line x1="465" y1="1049.5" x2="506" y2="1049.5"/><line x1="465" y1="1101.5" x2="506" y2="1101.5"/><line x1="465" y1="1153.5" x2="506" y2="1153.5"/><line x1="465" y1="1205.5" x2="506" y2="1205.5"/><line x1="465" y1="1257.5" x2="506" y2="1257.5"/><line x1="465" y1="1309.5" x2="506" y2="1309.5"/><line x1="465" y1="1361.5" x2="506" y2="1361.5"/><line x1="465" y1="1413.5" x2="506" y2="1413.5"/><line x1="465" y1="1465.5" x2="506" y2="1465.5"/><line x1="465" y1="1517.5" x2="506" y2="1517.5"/><line x1="465" y1="1569.5" x2="506" y2="1569.5"/>
</g>
<g id="rownums" class="num">
<g text-anchor="end">
<text x="20" y="66">1</text><text x="20" y="118">2</text><text x="20" y="170">3</text><text x="20" y="222">4</text><text x="20" y="274">5</text><text x="20" y="326">6</text><text x="20" y="378">7</text><text x="20" y="430">8</text><text x="20" y="482">9</text><text x="20" y="534">10</text>
<text x="20" y="586">11</text><text x="20" y="638">12</text><text x="20" y="690">13</text><text x="20" y="742">14</text><text x="20" y="794">15</text><text x="20" y="846">16</text><text x="20" y="898">17</text><text x="20" y="950">18</text><text x="20" y="1002">19</text><text x="20" y="1054">20</text>
<text x="20" y="1106">21</text><text x="20" y="1158">22</text><text x="20" y="1210">23</text><text x="20" y="1262">24</text><text x="20" y="1314">25</text><text x="20" y="1366">26</text><text x="20" y="1418">27</text><text x="20" y="1470">28</text><text x="20" y="1522">29</text><text x="20" y="1574">30</text><text x="20" y="1626">31</text>
</g>
<g>
<text x="511" y="66">1</text><text x="511" y="118">2</text><text x="511" y="170">3</text><text x="511" y="222">4</text><text x="511" y="274">5</text><text x="511" y="326">6</text><text x="511" y="378">7</text><text x="511" y="430">8</text><text x="511" y="482">9</text><text x="511" y="534">10</text>
<text x="511" y="586">11</text><text x="511" y="638">12</text><text x="511" y="690">13</text><text x="511" y="742">14</text><text x="511" y="794">15</text><text x="511" y="846">16</text><text x="511" y="898">17</text><text x="511" y="950">18</text><text x="511" y="1002">19</text><text x="511" y="1054">20</text>
<text x="511" y="1106">21</text><text x="511" y="1158">22</text><text x="511" y="1210">23</text><text x="511" y="1262">24</text><text x="511" y="1314">25</text><text x="511" y="1366">26</text><text x="511" y="1418">27</text><text x="511" y="1470">28</text><text x="511" y="1522">29</text><text x="511" y="1574">30</text><text x="511" y="1626">31</text>
</g>
</g>
<text class="wm" x="266.5" y="872" text-anchor="middle">BRACELETBOOK.COM</text>
</svg>
